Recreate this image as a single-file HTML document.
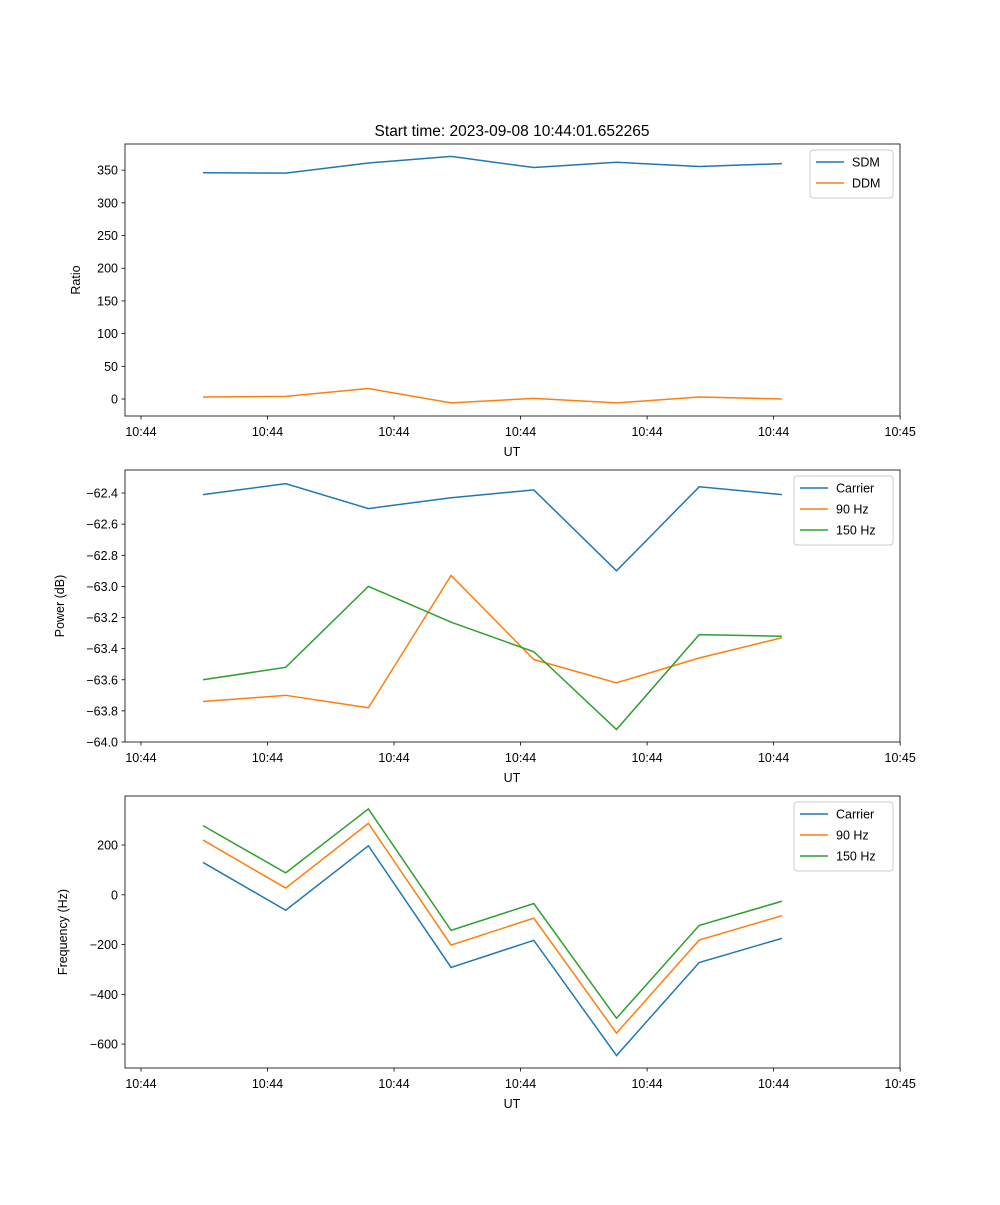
<!DOCTYPE html>
<html><head><meta charset="utf-8"><style>
body{margin:0;background:#fff;}
text{font-family:"Liberation Sans","DejaVu Sans",sans-serif;fill:#000;}
</style></head><body>
<svg id="chart" width="1000" height="1200" xmlns="http://www.w3.org/2000/svg">
<text x="512" y="136" font-size="15.5" text-anchor="middle">Start time: 2023-09-08 10:44:01.652265</text>
</svg>
<script>
const xTickVals=[-0.75,0.78,2.31,3.84,5.37,6.9,8.43];
const xTickLabels=["10:44","10:44","10:44","10:44","10:44","10:44","10:45"];
const ratioSDM=[346,345.5,361,371,354,362,355.5,360];
const ratioDDM=[3,4,16,-6,1,-6,3,0];
const powCarrier=[-62.41,-62.34,-62.50,-62.43,-62.38,-62.90,-62.36,-62.41];
const pow90=[-63.74,-63.70,-63.78,-62.93,-63.47,-63.62,-63.46,-63.33];
const pow150=[-63.60,-63.52,-63.00,-63.23,-63.42,-63.92,-63.31,-63.32];
const freqCarrier=[130,-62,197,-292,-183,-646,-272,-175];
const freq90=[220,27,287,-202,-94,-556,-182,-84];
const freq150=[278,88,345,-143,-35,-496,-123,-26];
const ratioTicks=[0,50,100,150,200,250,300,350];
const powTicks=[-64.0,-63.8,-63.6,-63.4,-63.2,-63.0,-62.8,-62.6,-62.4];
const freqTicks=[-600,-400,-200,0,200];

const svg=document.getElementById('chart');
const NS="http://www.w3.org/2000/svg";
const L=125,R=900;
function xS(i){return 203+82.7*i;}
function mk(tag,attrs){const e=document.createElementNS(NS,tag);for(const k in attrs)e.setAttribute(k,attrs[k]);svg.appendChild(e);return e;}
const C=["#1f77b4","#ff7f0e","#2ca02c"];
function panel(top,bottom,ymin,ymax,ticks,fmt,ylabel,series,names,legW,pname){
  const yS=v=>bottom-(v-ymin)/(ymax-ymin)*(bottom-top);
  series.forEach((s,k)=>{
    const p=mk('polyline',{points:s.map((v,i)=>xS(i)+','+yS(v)).join(' '),fill:'none',stroke:C[k],'stroke-width':1.5});
    
    
  });
  const f=mk('rect',{x:L,y:top,width:R-L,height:bottom-top,fill:'none',stroke:'#000','stroke-width':0.8});
  
  
  ticks.forEach(v=>{const y=yS(v);mk('line',{x1:L-3.5,x2:L,y1:y,y2:y,stroke:'#000','stroke-width':0.8});
    const t=mk('text',{x:L-7,y:y+4.5,'font-size':12.5,'text-anchor':'end'});t.textContent=fmt(v);
    
    });
  xTickVals.forEach((v,i)=>{const x=xS(v);mk('line',{x1:x,x2:x,y1:bottom,y2:bottom+3.5,stroke:'#000','stroke-width':0.8});
    const t=mk('text',{x:x,y:bottom+20,'font-size':12.5,'text-anchor':'middle'});t.textContent=xTickLabels[i];
    
    });
  const xl=mk('text',{x:512,y:bottom+40,'font-size':12.5,'text-anchor':'middle'});xl.textContent='UT';
  
  
  const cy=(top+bottom)/2;
  const yl=mk('text',{x:0,y:0,'font-size':12.5,'text-anchor':'middle',transform:`translate(${ylabel[1]},${cy}) rotate(-90)`});yl.textContent=ylabel[0];
  
  
  const lx=R-7-legW, ly=top+6, h=names.length*21+6;
  const lb=mk('rect',{x:lx,y:ly,width:legW,height:h,rx:3,fill:'#fff',stroke:'#ccc','stroke-width':1});
  
  
  names.forEach((n,k)=>{const y=ly+12+k*21;
    mk('line',{x1:lx+6,x2:lx+34,y1:y,y2:y,stroke:C[k],'stroke-width':1.5});
    const t=mk('text',{x:lx+42,y:y+4.5,'font-size':12.5});t.textContent=n;
    
    });
}
panel(144,416,-26,390,ratioTicks,v=>String(v),['Ratio',80],[ratioSDM,ratioDDM],['SDM','DDM'],83,'ratio');
panel(470,742,-64.0,-62.252,powTicks,v=>v.toFixed(1).replace('-','−'),['Power (dB)',64],[powCarrier,pow90,pow150],['Carrier','90 Hz','150 Hz'],99,'power');
panel(796,1068,-696,397,freqTicks,v=>String(v).replace('-','−'),['Frequency (Hz)',67],[freqCarrier,freq90,freq150],['Carrier','90 Hz','150 Hz'],99,'frequency');
</script>
</body></html>
